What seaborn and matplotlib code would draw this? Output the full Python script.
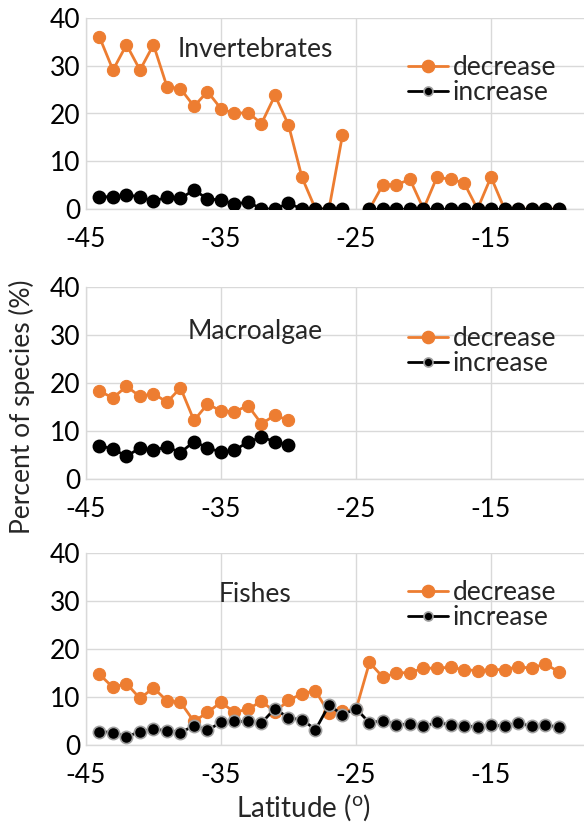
import matplotlib
matplotlib.use("Agg")
import matplotlib.pyplot as plt
from matplotlib.lines import Line2D
import seaborn as sns
import pandas as pd

# ---------------- data ----------------
lat_inv = list(range(-44, -25)) + list(range(-24, -9))
seg_inv = [0] * 19 + [1] * 15
inv_decrease = [36.0, 29.1, 34.4, 29.1, 34.4, 25.6, 25.2, 21.5, 24.6, 21.0, 20.0, 20.2, 17.9, 23.8, 17.6, 6.6, 0, 0, 15.5,
                0, 5.1, 5.1, 6.2, 0, 6.7, 6.2, 5.5, 0, 6.7, 0, 0, 0, 0, 0]
inv_increase = [2.6, 2.5, 2.9, 2.6, 1.6, 2.5, 2.2, 4.0, 2.1, 1.9, 1.0, 1.5, 0, 0, 1.2, 0, 0, 0, 0,
                0, 0, 0, 0, 0, 0, 0, 0, 0, 0, 0, 0, 0, 0, 0]

lat_alg = list(range(-44, -29))
seg_alg = [0] * 15
alg_decrease = [18.3, 16.9, 19.3, 17.2, 17.8, 16.0, 19.0, 12.2, 15.6, 14.2, 14.0, 15.3, 11.5, 13.3, 12.2]
alg_increase = [6.9, 6.3, 4.7, 6.5, 6.0, 6.7, 5.5, 7.8, 6.5, 5.6, 6.0, 7.7, 8.7, 7.8, 7.0]

lat_fish = list(range(-44, -9))
seg_fish = [0] * 35
fish_decrease = [14.7, 12.0, 12.8, 9.7, 11.9, 9.2, 8.9, 4.9, 6.8, 8.9, 6.8, 7.5, 9.1, 6.9, 9.3, 10.7, 11.3, 6.6, 7.0,
                 7.4, 17.2, 14.1, 15.0, 15.1, 16.0, 16.0, 16.2, 15.7, 15.5, 15.7, 15.7, 16.3, 16.0, 16.9, 15.3]
fish_increase = [2.8, 2.6, 1.7, 2.8, 3.3, 3.0, 2.6, 4.0, 3.1, 4.7, 4.9, 4.9, 4.6, 7.6, 5.6, 5.3, 3.2, 8.3, 6.3,
                 7.6, 4.6, 5.1, 4.2, 4.4, 3.9, 4.7, 4.2, 4.0, 3.8, 4.2, 3.9, 4.6, 3.9, 4.1, 3.8]

panel_titles = ["Invertebrates", "Macroalgae", "Fishes"]
series_labels = ["decrease", "increase"]
x_ticks = [-45, -35, -25, -15]
y_ticks = [0, 10, 20, 30, 40]

# ---------------- style ----------------
sns.set_theme(style="white")
FONT = ["Lato", "DejaVu Sans"]
plt.rcParams["font.family"] = FONT
plt.rcParams["mathtext.fontset"] = "custom"
plt.rcParams["mathtext.rm"] = "Lato"

ORANGE = "#ED7D31"
GRID = "#D9D9D9"
FS = 19

fig = plt.figure(figsize=(5.84, 8.23), dpi=100)
W, H = 584, 823
left_px, right_px = 86, 584
panels_px = [(18, 209), (287, 479), (553, 745)]
title_pos = [(0.339, 0.835), (0.339, 0.768), (0.339, 0.782)]
legend_top = [0.805, 0.795, 0.86]

datasets = [
    (lat_inv, seg_inv, inv_decrease, inv_increase, False),
    (lat_alg, seg_alg, alg_decrease, alg_increase, False),
    (lat_fish, seg_fish, fish_decrease, fish_increase, True),
]

xmax = -45 + (right_px - left_px) / 13.5

for i, ((top, bot), (lat, seg, dec, inc, gray_edge)) in enumerate(zip(panels_px, datasets)):
    ax = fig.add_axes([left_px / W, 1 - bot / H, (right_px - left_px) / W, (bot - top) / H])
    df = pd.DataFrame({"lat": lat, "seg": seg, "dec": dec, "inc": inc})
    sns.lineplot(data=df, x="lat", y="dec", units="seg", estimator=None, ax=ax,
                 color=ORANGE, lw=2.0, marker="o", markersize=8.8,
                 markeredgecolor=ORANGE, markerfacecolor=ORANGE, zorder=3)
    sns.lineplot(data=df, x="lat", y="inc", units="seg", estimator=None, ax=ax,
                 color="black", lw=2.0, marker="o", markersize=8.8,
                 markeredgecolor=("#A0A0A0" if gray_edge else "black"),
                 markeredgewidth=1.2, markerfacecolor="black", zorder=4)
    ax.set_xlim(-45, xmax)
    ax.set_ylim(0, 40)
    ax.set_xticks(x_ticks)
    ax.set_yticks(y_ticks)
    ax.set_xticklabels([str(t) for t in x_ticks])
    ax.set_yticklabels([str(t) for t in y_ticks])
    ax.grid(True, color=GRID, lw=1.0)
    ax.set_axisbelow(True)
    for s in ["top", "right"]:
        ax.spines[s].set_visible(False)
    for s in ["left", "bottom"]:
        ax.spines[s].set_color(GRID)
        ax.spines[s].set_linewidth(1.0)
    ax.tick_params(axis="both", length=0, labelsize=FS, colors="black")
    ax.tick_params(axis="x", pad=13)
    ax.tick_params(axis="y", pad=4)
    ax.set_xlabel("")
    ax.set_ylabel("")
    ax.text(title_pos[i][0], title_pos[i][1], panel_titles[i], transform=ax.transAxes,
            ha="center", va="center", fontsize=FS)
    handles = [
        Line2D([], [], color=ORANGE, lw=2.0, marker="o", markersize=8.8,
               markerfacecolor=ORANGE, markeredgecolor=ORANGE),
        Line2D([], [], color="black", lw=2.0, marker="o", markersize=6.5,
               markerfacecolor="black", markeredgecolor="#A0A0A0", markeredgewidth=1.2),
    ]
    ax.legend(handles, series_labels, loc="upper left", bbox_to_anchor=(0.647, legend_top[i]),
              frameon=False, fontsize=FS, handlelength=1.5, handletextpad=0.18,
              labelspacing=0.0, borderpad=0, borderaxespad=0)

fig.text(22 / W, 1 - 407 / H, "Percent of species (%)", rotation=90, ha="center", va="center", fontsize=FS)
fig.text(303 / W, 1 - 808 / H, r"Latitude ($\mathregular{^o}$)", ha="center", va="center", fontsize=FS + 1)

fig.savefig("out.png", dpi=100)
